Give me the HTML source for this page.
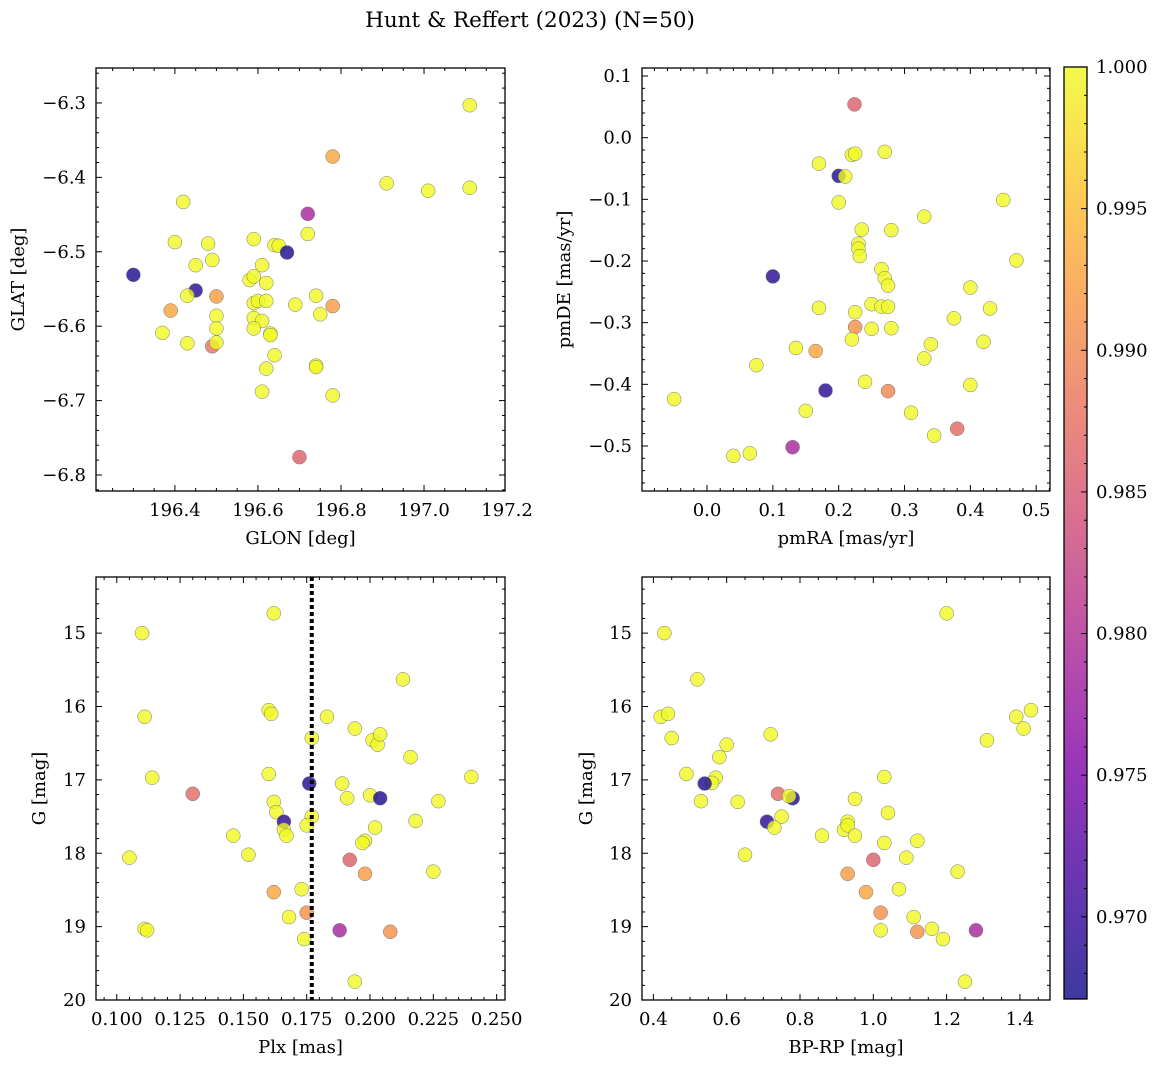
<!DOCTYPE html>
<html><head><meta charset="utf-8"><style>
html,body{margin:0;padding:0;background:#fff;}
svg{display:block;font-family:"DejaVu Serif","Liberation Serif",serif;}
</style></head><body>
<svg id="fig" width="1161" height="1067" viewBox="0 0 1161 1067" xmlns="http://www.w3.org/2000/svg">
<text x="530" y="27" font-size="21.5" text-anchor="middle">Hunt &amp; Reffert (2023) (N=50)</text>
</svg>
<script>
// ---- data ----
const tlGlon=[197.11,196.78,196.91,197.01,197.11,196.72,196.42,196.40,196.48,196.49,196.45,196.59,196.64,196.65,196.72,196.67,196.30,196.45,196.61,196.58,196.59,196.62,196.43,196.50,196.39,196.59,196.60,196.62,196.69,196.74,196.78,196.50,196.59,196.61,196.50,196.59,196.63,196.63,196.75,196.37,196.43,196.49,196.50,196.64,196.62,196.74,196.74,196.61,196.78,196.70];
const tlGlat=[-6.303,-6.372,-6.408,-6.418,-6.414,-6.449,-6.433,-6.487,-6.489,-6.511,-6.518,-6.483,-6.491,-6.492,-6.476,-6.501,-6.531,-6.552,-6.518,-6.538,-6.533,-6.542,-6.559,-6.560,-6.579,-6.569,-6.566,-6.566,-6.571,-6.559,-6.573,-6.586,-6.589,-6.593,-6.603,-6.603,-6.610,-6.612,-6.584,-6.609,-6.623,-6.627,-6.622,-6.639,-6.657,-6.653,-6.655,-6.688,-6.693,-6.776];
const tlProb=[1,0.993,1,1,1,0.979,1,1,1,1,1,1,1,1,1,0.968,0.968,0.969,1,1,1,1,1,0.992,0.993,1,1,1,1,1,0.992,1,1,1,1,1,1,1,1,1,1,0.988,1,1,1,1,1,1,1,0.986];

const trPmra=[0.224,0.17,0.20,0.21,0.22,0.225,0.27,0.20,0.45,0.33,0.235,0.28,0.23,0.23,0.232,0.10,0.265,0.27,0.275,0.47,0.40,0.17,0.25,0.265,0.275,0.225,0.43,0.375,0.225,0.25,0.28,0.22,0.42,0.34,0.135,0.165,0.33,0.075,0.24,0.40,0.18,0.275,-0.05,0.15,0.31,0.38,0.345,0.13,0.04,0.065];
const trPmde=[0.054,-0.042,-0.062,-0.063,-0.028,-0.026,-0.023,-0.105,-0.101,-0.128,-0.149,-0.150,-0.172,-0.180,-0.192,-0.225,-0.213,-0.228,-0.240,-0.199,-0.243,-0.276,-0.270,-0.274,-0.274,-0.283,-0.277,-0.293,-0.307,-0.310,-0.309,-0.327,-0.331,-0.335,-0.341,-0.346,-0.358,-0.369,-0.396,-0.401,-0.410,-0.411,-0.424,-0.443,-0.446,-0.472,-0.483,-0.502,-0.516,-0.512];
const trProb=[0.986,1,0.968,1,1,1,1,1,1,1,1,1,1,1,1,0.969,1,1,1,1,1,1,1,1,1,1,1,1,0.991,1,1,1,1,1,1,0.993,1,1,1,1,0.969,0.990,1,1,1,0.987,1,0.979,1,1];

const blPlx=[0.110,0.162,0.111,0.213,0.160,0.161,0.183,0.177,0.194,0.201,0.203,0.204,0.216,0.114,0.160,0.240,0.130,0.176,0.189,0.200,0.204,0.191,0.227,0.162,0.163,0.166,0.218,0.177,0.175,0.202,0.166,0.167,0.146,0.198,0.197,0.152,0.105,0.192,0.225,0.198,0.173,0.162,0.168,0.175,0.111,0.112,0.188,0.208,0.174,0.194];
const blG=[15.0,14.73,16.14,15.63,16.05,16.10,16.14,16.43,16.30,16.46,16.52,16.38,16.69,16.97,16.92,16.96,17.19,17.05,17.05,17.21,17.25,17.25,17.29,17.30,17.44,17.57,17.56,17.50,17.62,17.65,17.68,17.76,17.76,17.83,17.86,18.02,18.06,18.09,18.25,18.28,18.49,18.53,18.87,18.81,19.03,19.05,19.05,19.07,19.17,19.75];
const blProb=[1,1,1,1,1,1,1,1,1,1,1,1,1,1,1,1,0.987,0.968,1,1,0.968,1,1,1,1,0.969,1,1,1,1,1,1,1,1,1,1,1,0.986,1,0.992,1,0.993,1,0.991,1,1,0.979,0.991,1,1];

const brBprp=[0.43,1.20,0.52,0.42,0.44,1.43,1.39,1.41,0.72,0.45,1.31,0.60,0.58,0.49,0.57,0.56,1.03,0.54,0.74,0.78,0.77,0.95,0.53,0.63,1.04,0.75,0.71,0.93,0.73,0.92,0.93,0.95,0.86,1.12,1.03,0.65,1.09,1.00,1.23,0.93,1.07,0.98,1.11,1.02,1.16,1.02,1.28,1.12,1.19,1.25];
const brG=[15.0,14.73,15.63,16.14,16.10,16.05,16.14,16.30,16.38,16.43,16.46,16.52,16.69,16.92,16.97,17.04,16.96,17.05,17.19,17.25,17.22,17.26,17.29,17.30,17.45,17.50,17.57,17.57,17.65,17.68,17.62,17.76,17.76,17.83,17.86,18.02,18.06,18.09,18.25,18.28,18.49,18.53,18.87,18.81,19.03,19.05,19.05,19.07,19.17,19.75];
const brProb=[1,1,1,1,1,1,1,1,1,1,1,1,1,1,1,1,1,0.968,0.987,0.968,1,1,1,1,1,1,0.969,1,1,1,1,1,1,1,1,1,1,0.986,1,0.992,1,0.993,1,0.991,1,1,0.979,0.991,1,1];

const plxMedian=0.177;
const cbTicks=[0.970,0.975,0.980,0.985,0.990,0.995,1.000];
const cMin=0.9671,cMax=1.0;

// ---- rendering ----
const NS="http://www.w3.org/2000/svg";
const svg=document.getElementById('fig');
const FS=18;
function mk(tag,attrs,parent){const e=document.createElementNS(NS,tag);for(const k in attrs)e.setAttribute(k,attrs[k]);(parent||svg).appendChild(e);return e;}
const stops=[[0,[13,8,135]],[0.125,[65,4,157]],[0.25,[126,3,168]],[0.375,[170,35,149]],[0.5,[204,71,120]],[0.625,[230,108,92]],[0.75,[248,149,64]],[0.875,[253,196,39]],[1,[240,249,33]]];
function plasma(t){t=Math.max(0,Math.min(1,t));for(let i=1;i<stops.length;i++){if(t<=stops[i][0]){const a=stops[i-1],b=stops[i];const f=(t-a[0])/(b[0]-a[0]);const c=a[1].map((v,j)=>Math.round(v+(b[1][j]-v)*f));return `rgb(${c[0]},${c[1]},${c[2]})`;}}return 'rgb(240,249,33)';}
function col(p){return plasma((p-cMin)/(cMax-cMin));}

function panel(cfg){
  const {name,x0,x1,y0,y1,xmin,xmax,ymin,ymax,invY,xt,yt,xminor,yminor,xfmt,yfmt,xlabel,ylabel,xs,ys,ps}=cfg;
  const g=mk('g',{});
  
  
  const sx=v=>x0+(v-xmin)/(xmax-xmin)*(x1-x0);
  const sy=v=>invY? y0+(v-ymin)/(ymax-ymin)*(y1-y0) : y1-(v-ymin)/(ymax-ymin)*(y1-y0);
  const pg=mk('g',{},g);
  
  
  for(let i=0;i<xs.length;i++){
    const c=mk('circle',{cx:sx(xs[i]),cy:sy(ys[i]),r:7,fill:col(ps[i]),'fill-opacity':0.8,stroke:'#777','stroke-width':0.5},pg);
    
    
  }
  if(cfg.vline!==undefined){
    const l=mk('line',{x1:sx(cfg.vline),x2:sx(cfg.vline),y1:y0,y2:y1,stroke:'#000','stroke-width':4,'stroke-dasharray':'4,3'},g);
    
    
  }
  mk('rect',{x:x0,y:y0,width:x1-x0,height:y1-y0,fill:'none',stroke:'#000','stroke-width':1.3},g);
  const tk=mk('g',{stroke:'#000','stroke-width':1},g);
  const step=xt[1]-xt[0], ms=step/xminor;
  for(let v=xt[0]-step;v<=xmax+1e-9;v+=ms){ if(v<xmin-1e-9)continue; const X=sx(v); const major=xt.some(t=>Math.abs(t-v)<ms/10); const L=major?6:3;
    mk('line',{x1:X,x2:X,y1:y1,y2:y1-L},tk); mk('line',{x1:X,x2:X,y1:y0,y2:y0+L},tk);}
  const ystep=yt[1]-yt[0], yms=ystep/yminor;
  for(let v=yt[0]-ystep;v<=ymax+1e-9;v+=yms){ if(v<ymin-1e-9)continue; const Y=sy(v); const major=yt.some(t=>Math.abs(t-v)<yms/10); const L=major?6:3;
    mk('line',{x1:x0,x2:x0+L,y1:Y,y2:Y},tk); mk('line',{x1:x1,x2:x1-L,y1:Y,y2:Y},tk);}
  xt.forEach(v=>{const t=mk('text',{x:sx(v),y:y1+25,'font-size':FS,'text-anchor':'middle'},g);t.textContent=xfmt(v);
    
    });
  yt.forEach(v=>{const t=mk('text',{x:x0-10,y:sy(v)+6,'font-size':FS,'text-anchor':'end'},g);t.textContent=yfmt(v);
    
    });
  const xl=mk('text',{x:(x0+x1)/2,y:y1+53,'font-size':FS,'text-anchor':'middle'},g);xl.textContent=xlabel;
  
  
  const ylx=cfg.ylabX, yl=mk('text',{x:ylx,y:(y0+y1)/2,'font-size':FS,'text-anchor':'middle',transform:`rotate(-90 ${ylx} ${(y0+y1)/2})`},g);yl.textContent=ylabel;
  
  
}
panel({name:'glon-glat-panel',x0:96,x1:505,y0:68,y1:491,xmin:196.21,xmax:197.195,ymin:-6.8215,ymax:-6.253,xt:[196.4,196.6,196.8,197.0,197.2],yt:[-6.8,-6.7,-6.6,-6.5,-6.4,-6.3],xminor:4,yminor:5,
  xfmt:v=>v.toFixed(1),yfmt:v=>(v<0?'\u2212':'')+Math.abs(v).toFixed(1),xlabel:'GLON [deg]',ylabel:'GLAT [deg]',ylabX:24,xs:tlGlon,ys:tlGlat,ps:tlProb});
panel({name:'pm-panel',x0:642,x1:1050,y0:68,y1:491,xmin:-0.0988,xmax:0.521,ymin:-0.573,ymax:0.113,xt:[0,0.1,0.2,0.3,0.4,0.5],yt:[-0.5,-0.4,-0.3,-0.2,-0.1,0,0.1],xminor:5,yminor:5,
  xfmt:v=>v.toFixed(1),yfmt:v=>(v<-1e-9?'\u2212':'')+Math.abs(v).toFixed(1),xlabel:'pmRA [mas/yr]',ylabel:'pmDE [mas/yr]',ylabX:570,xs:trPmra,ys:trPmde,ps:trProb});
panel({name:'plx-g-panel',x0:96,x1:505,y0:577,y1:1000,xmin:0.0918,xmax:0.2533,ymin:14.235,ymax:20.0,invY:true,xt:[0.1,0.125,0.15,0.175,0.2,0.225,0.25],yt:[15,16,17,18,19,20],xminor:5,yminor:5,
  xfmt:v=>v.toFixed(3),yfmt:v=>String(v),xlabel:'Plx [mas]',ylabel:'G [mag]',ylabX:45,xs:blPlx,ys:blG,ps:blProb,vline:plxMedian});
panel({name:'cmd-panel',x0:642,x1:1050,y0:577,y1:1000,xmin:0.369,xmax:1.482,ymin:14.235,ymax:20.0,invY:true,xt:[0.4,0.6,0.8,1.0,1.2,1.4],yt:[15,16,17,18,19,20],xminor:4,yminor:5,
  xfmt:v=>v.toFixed(1),yfmt:v=>String(v),xlabel:'BP-RP [mag]',ylabel:'G [mag]',ylabX:592,xs:brBprp,ys:brG,ps:brProb});

const cb=mk('g',{});


const cx0=1064,cx1=1087,cy0=67,cy1=999;
const defs=mk('defs',{},cb);
const grad=mk('linearGradient',{id:'cbg',x1:0,y1:1,x2:0,y2:0},defs);
for(let i=0;i<=20;i++){mk('stop',{offset:i/20,'stop-color':plasma(i/20),'stop-opacity':0.8},grad);}
mk('rect',{x:cx0,y:cy0,width:cx1-cx0,height:cy1-cy0,fill:'url(#cbg)',stroke:'#000','stroke-width':1.3},cb);
const cy=v=>cy1-(v-cMin)/(cMax-cMin)*(cy1-cy0);
for(let v=0.968;v<=1.00001;v+=0.001){const Y=cy(v);const major=cbTicks.some(t=>Math.abs(t-v)<1e-4);mk('line',{x1:cx1,x2:cx1-(major?6:3),y1:Y,y2:Y,stroke:'#000'},cb);}
cbTicks.forEach(v=>{const t=mk('text',{x:1096,y:cy(v)+6,'font-size':FS},cb);t.textContent=v.toFixed(3);
  
  });
</script>
</body></html>
